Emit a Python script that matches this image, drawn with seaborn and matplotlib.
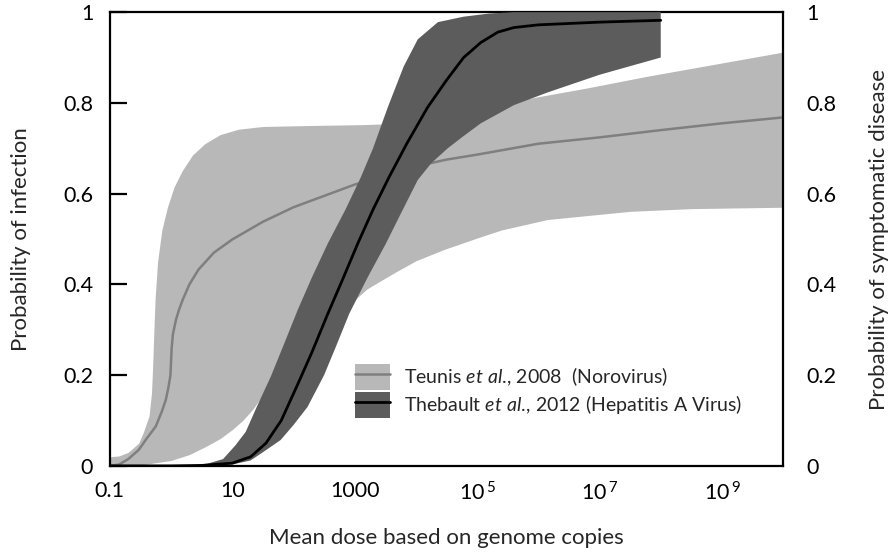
import numpy as np
import pandas as pd
import matplotlib
matplotlib.use("Agg")
import matplotlib.pyplot as plt
import seaborn as sns
from matplotlib.patches import Patch
from matplotlib.lines import Line2D

# Style
sns.set_theme(style="white")
plt.rcParams['font.family'] = ['Lato', 'DejaVu Sans']
plt.rcParams['mathtext.fontset'] = 'custom'
plt.rcParams['mathtext.rm'] = 'Lato'
plt.rcParams['mathtext.it'] = 'Lato:italic'

# ---- data (x as log10 of mean dose) ----
# Teunis et al., 2008 (Norovirus)
noro_mid_logx = [-1.0, -0.85, -0.7, -0.53, -0.4, -0.25, -0.15, -0.085, -0.04, -0.01, 0.0, 0.01,
                 0.03, 0.08, 0.13, 0.19, 0.3, 0.45, 0.7, 1.0, 1.5, 2.0, 2.5, 3.0, 3.5, 4.0,
                 4.5, 5.0, 6.0, 7.0, 8.0, 9.0, 10.0]
noro_mid = [0.0, 0.003, 0.015, 0.035, 0.06, 0.087, 0.12, 0.146, 0.175, 0.2, 0.23, 0.26,
            0.29, 0.322, 0.344, 0.366, 0.40, 0.433, 0.47, 0.499, 0.538, 0.57, 0.595, 0.62,
            0.64, 0.66, 0.675, 0.686, 0.71, 0.724, 0.74, 0.755, 0.768]

noro_hi_logx = [-1.0, -0.85, -0.7, -0.53, -0.45, -0.36, -0.32, -0.3, -0.28, -0.26, -0.22, -0.15,
                -0.06, 0.05, 0.18, 0.35, 0.55, 0.8, 1.1, 1.5, 2.2, 3.1, 3.8, 4.5, 5.2, 5.77,
                6.8, 7.79, 9.0, 10.0]
noro_hi = [0.02, 0.022, 0.03, 0.05, 0.075, 0.11, 0.16, 0.22, 0.30, 0.37, 0.45, 0.52,
           0.57, 0.615, 0.65, 0.685, 0.71, 0.73, 0.742, 0.748, 0.75, 0.752, 0.755, 0.77,
           0.79, 0.808, 0.833, 0.859, 0.888, 0.912]

noro_lo_logx = [-1.0, -0.5, 0.0, 0.3, 0.57, 0.8, 1.0, 1.17, 1.33, 1.6, 1.9, 2.2, 2.5, 2.82,
                3.2, 3.64, 4.0, 4.46, 5.06, 5.4, 6.15, 7.5, 8.5, 10.0]
noro_lo = [0.0, 0.002, 0.012, 0.025, 0.043, 0.06, 0.08, 0.10, 0.124, 0.175, 0.22, 0.26,
           0.30, 0.344, 0.39, 0.425, 0.452, 0.477, 0.505, 0.52, 0.543, 0.561, 0.567, 0.57]

# Thebault et al., 2012 (Hepatitis A Virus)
hav_mid_logx = [-1.0, 0.0, 0.5, 1.0, 1.3, 1.55, 1.8, 2.07, 2.3, 2.56, 2.8, 3.05, 3.3, 3.56,
                3.85, 4.19, 4.5, 4.78, 5.06, 5.34, 5.6, 6.0, 7.0, 8.0]
hav_mid = [0.0, 0.0, 0.001, 0.006, 0.02, 0.05, 0.10, 0.18, 0.25, 0.335, 0.41, 0.49, 0.565,
           0.636, 0.71, 0.79, 0.85, 0.90, 0.933, 0.956, 0.966, 0.972, 0.978, 0.982]

hav_hi_logx = [-1.0, 0.3, 0.6, 0.85, 1.05, 1.22, 1.4, 1.63, 1.85, 2.07, 2.3, 2.56, 2.85, 3.1,
               3.3, 3.54, 3.8, 4.03, 4.36, 4.78, 5.2, 5.6, 8.0]
hav_hi = [0.0, 0.001, 0.005, 0.015, 0.045, 0.075, 0.13, 0.197, 0.27, 0.344, 0.415, 0.49,
          0.565, 0.636, 0.70, 0.79, 0.88, 0.94, 0.978, 0.99, 0.997, 1.0, 1.0]

hav_lo_logx = [-1.0, 0.5, 1.0, 1.3, 1.5, 1.79, 2.0, 2.23, 2.5, 2.7, 2.91, 3.21, 3.51, 3.75,
               4.03, 4.25, 4.52, 4.76, 5.06, 5.6, 6.15, 7.0, 8.0]
hav_lo = [0.0, 0.0, 0.003, 0.012, 0.03, 0.057, 0.09, 0.13, 0.20, 0.265, 0.335, 0.415, 0.49,
          0.555, 0.63, 0.667, 0.70, 0.725, 0.755, 0.795, 0.823, 0.862, 0.90]

x_tick_vals = [0.1, 10, 100, 1000, 1e4, 1e5, 1e6, 1e7, 1e8, 1e9]
x_tick_labels = ['0.1', '10', '', '1000', '', r'$\mathregular{10^{\,5}}$', '',
                 r'$\mathregular{10^{\,7}}$', '', r'$\mathregular{10^{\,9}}$']
y_tick_vals = [0, 0.2, 0.4, 0.6, 0.8, 1.0]
y_tick_labels = ['0', '0.2', '0.4', '0.6', '0.8', '1']

light_fill = '#b8b8b8'
light_line = '#7f7f7f'
dark_fill = '#5c5c5c'

fs_tick = 15.5
fs_label = 16

# ---- plot ----
fig, ax = plt.subplots(figsize=(8.93, 5.52), dpi=100)
fig.subplots_adjust(left=0.123, right=0.877, bottom=0.156, top=0.978)

noro_mid_df = pd.DataFrame({'dose': np.power(10.0, noro_mid_logx), 'p': noro_mid})
hav_mid_df = pd.DataFrame({'dose': np.power(10.0, hav_mid_logx), 'p': hav_mid})

# Norovirus band (drawn first, HAV band sits on top)
ax.fill_between(np.power(10.0, noro_hi_logx), noro_hi, 0, color=light_fill, lw=0, zorder=1)
ax.fill_between(np.power(10.0, noro_lo_logx), noro_lo, 0, color='white', lw=0, zorder=1.1)
sns.lineplot(data=noro_mid_df, x='dose', y='p', color=light_line, lw=1.8, ax=ax, zorder=2)

# HAV band
hav_hi_x = np.power(10.0, hav_hi_logx)
hav_lo_x = np.power(10.0, hav_lo_logx)
poly_x = np.concatenate([hav_hi_x, hav_lo_x[::-1]])
poly_y = np.concatenate([hav_hi, hav_lo[::-1]])
ax.fill(poly_x, poly_y, color=dark_fill, lw=0, zorder=3)
sns.lineplot(data=hav_mid_df, x='dose', y='p', color='black', lw=2.0, ax=ax, zorder=4)

ax.set_xscale('log')
ax.set_xlim(0.1, 1e10)
ax.set_ylim(0, 1)
ax.set_xticks(x_tick_vals)
ax.set_xticklabels(x_tick_labels)
ax.minorticks_off()
ax.set_yticks(y_tick_vals)
ax.set_yticklabels(y_tick_labels)

for s in ax.spines.values():
    s.set_linewidth(1.6)
    s.set_color('black')

ax.tick_params(axis='x', direction='in', length=6, width=1.6, labelsize=fs_tick, pad=11, colors='black')
ax.tick_params(axis='y', direction='in', length=12, width=1.6, labelsize=fs_tick, pad=12,
               right=True, colors='black')

ax.set_xlabel('Mean dose based on genome copies', fontsize=fs_label, labelpad=17)
ax.set_ylabel('Probability of infection', fontsize=fs_label, labelpad=23)

# right axis
ax2 = ax.twinx()
ax2.set_ylim(0, 1)
ax2.set_yticks(y_tick_vals)
ax2.set_yticklabels(y_tick_labels)
ax2.tick_params(axis='y', direction='in', length=0, labelsize=fs_tick, pad=17, colors='black')
ax2.set_ylabel('Probability of symptomatic disease', fontsize=fs_label, labelpad=23)
for s in ax2.spines.values():
    s.set_visible(False)

# legend
h1 = (Patch(facecolor=light_fill, edgecolor='none'), Line2D([], [], color=light_line, lw=1.8))
h2 = (Patch(facecolor=dark_fill, edgecolor='none'), Line2D([], [], color='black', lw=2.0))
ax.legend([h1, h2],
          [r'Teunis $\mathit{et\ al.}\!$, 2008  (Norovirus)',
           r'Thebault $\mathit{et\ al.}\!$, 2012 (Hepatitis A Virus)'],
          loc='upper left', bbox_to_anchor=(0.364, 0.225), frameon=False, fontsize=14,
          handlelength=1.8, handleheight=1.7, handletextpad=0.7, labelspacing=0.1,
          borderpad=0, borderaxespad=0)

plt.savefig('out.png', dpi=100)
